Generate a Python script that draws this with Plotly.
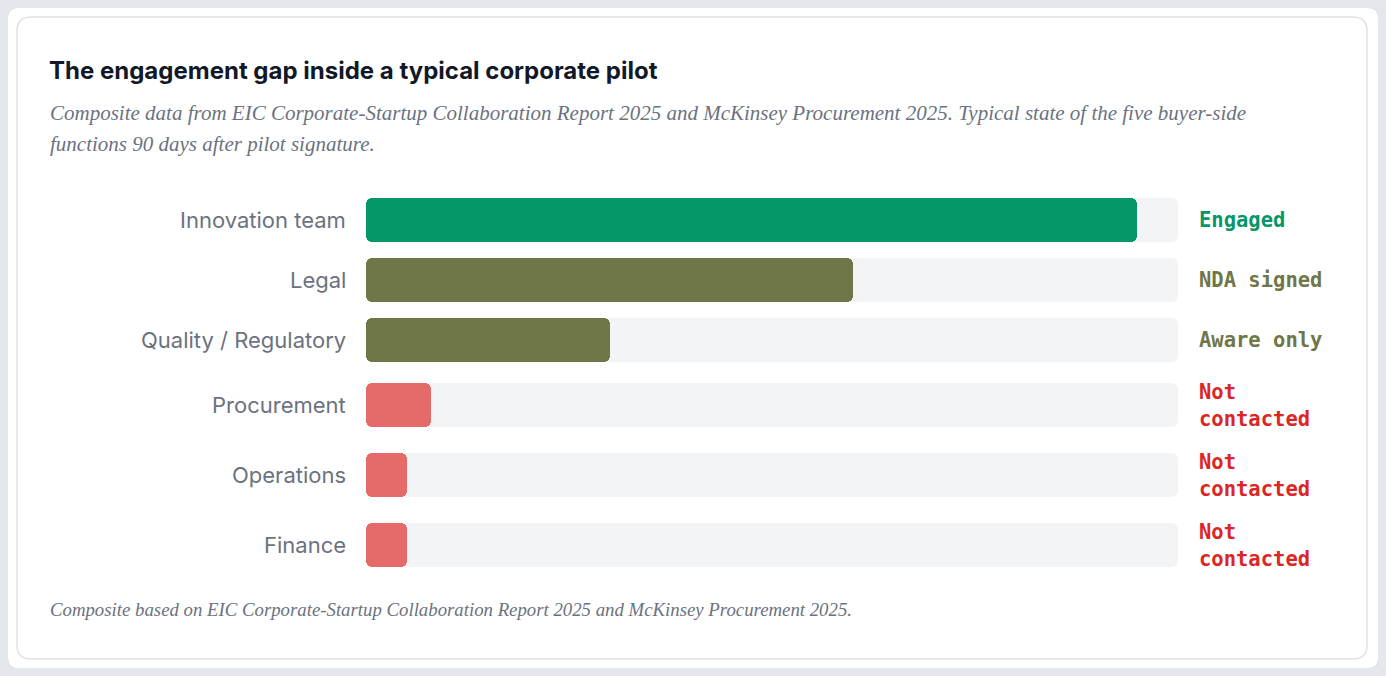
import plotly.graph_objects as go

# ---------------- data ----------------
categories = ["Innovation team", "Legal", "Quality / Regulatory", "Procurement", "Operations", "Finance"]
engagement = [95, 60, 30, 8, 5, 5]
statuses = ["Engaged", "NDA signed", "Aware only", "Not contacted", "Not contacted", "Not contacted"]
track_max = 100

title_text = "The engagement gap inside a typical corporate pilot"
subtitle_lines = [
    "Composite data from EIC Corporate-Startup Collaboration Report 2025 and McKinsey Procurement 2025. Typical state of the five buyer-side",
    "functions 90 days after pilot signature.",
]
footnote_text = "Composite based on EIC Corporate-Startup Collaboration Report 2025 and McKinsey Procurement 2025."

# ---------------- styles ----------------
status_colors = {"Engaged": "#059669", "NDA signed": "#6f7648", "Aware only": "#6f7648", "Not contacted": "#dc2626"}
bar_colors = {"Engaged": "#059669", "NDA signed": "#6f7648", "Aware only": "#6f7648", "Not contacted": "#e56b6b"}
TRACK = "#f3f4f6"
PAGE = "#e4e7eb"

OFF = 8                      # page body margin
WIN_W, WIN_H = 1386, 676
W, H = WIN_W - 2 * OFF, WIN_H - 2 * OFF
PL, PR = 366, 1178           # plot area x (window pixels)
PT = 190                     # top of first row (window pixels)
ROW1, ROW2 = 60, 70          # row heights for 1-line / 2-line status labels
BAR_H = 44
RADIUS = 6
WRAP = 11


def wrap(s):
    if len(s) > WRAP and " " in s:
        return s.split(" ", 1)
    return [s]


wrapped = [wrap(s) for s in statuses]
heights = [ROW1 if len(w) == 1 else ROW2 for w in wrapped]
centers = []
acc = PT
for h in heights:
    centers.append(acc + h / 2)
    acc += h
PB = acc

pw, ph = PR - PL, PB - PT


def px(x):
    return (x - PL) / pw


def py(y):
    return (PB - y) / ph


def rounded_bar(values, colors):
    # two overlapping pieces growing outwards so both ends get rounded corners
    traces = []
    traces.append(go.Bar(
        x=[-0.75 * v for v in values], base=[0.75 * v for v in values], y=centers,
        orientation="h", width=BAR_H,
        marker=dict(color=colors, cornerradius=RADIUS, line=dict(width=0)),
        hoverinfo="skip", showlegend=False,
    ))
    traces.append(go.Bar(
        x=[0.75 * v for v in values], base=[0.25 * v for v in values], y=centers,
        orientation="h", width=BAR_H,
        marker=dict(color=colors, cornerradius=RADIUS, line=dict(width=0)),
        hoverinfo="skip", showlegend=False,
    ))
    return traces


fig = go.Figure()
for t in rounded_bar([track_max] * len(categories), [TRACK] * len(categories)):
    fig.add_trace(t)
for t in rounded_bar(engagement, [bar_colors[s] for s in statuses]):
    fig.add_trace(t)

annotations = []
for c, cat in zip(centers, categories):
    annotations.append(dict(
        x=0, y=c, xref="paper", yref="y", text=cat, showarrow=False,
        xanchor="right", yanchor="middle", xshift=-18,
        font=dict(family="Inter", size=22, color="#6b7280"),
    ))
for c, w, s in zip(centers, wrapped, statuses):
    annotations.append(dict(
        x=1, y=c, xref="paper", yref="y", text="<br>".join(w), showarrow=False,
        xanchor="left", yanchor="middle", xshift=19, align="left",
        font=dict(family="DejaVu Sans Mono", size=20.5, color=status_colors[s], weight="bold"),
    ))

annotations.append(dict(
    x=px(47), y=py(70), xref="paper", yref="paper", text="<b>" + title_text + "</b>",
    showarrow=False, xanchor="left", yanchor="middle",
    font=dict(family="Inter", size=24, color="#111827"),
))
for yy, line in zip([113, 144], subtitle_lines):
    annotations.append(dict(
        x=px(48), y=py(yy), xref="paper", yref="paper", text=line,
        showarrow=False, xanchor="left", yanchor="middle", align="left",
        font=dict(family="Liberation Serif", size=21, color="#6b7280", style="italic"),
    ))
annotations.append(dict(
    x=px(48), y=py(609), xref="paper", yref="paper", text=footnote_text,
    showarrow=False, xanchor="left", yanchor="middle", align="left",
    font=dict(family="Liberation Serif", size=18.8, color="#6b7280", style="italic"),
))


def rrect(x0, y0, x1, y1, r):
    X, Y = px, py
    return (f"M {X(x0 + r)} {Y(y0)} L {X(x1 - r)} {Y(y0)} Q {X(x1)} {Y(y0)} {X(x1)} {Y(y0 + r)} "
            f"L {X(x1)} {Y(y1 - r)} Q {X(x1)} {Y(y1)} {X(x1 - r)} {Y(y1)} "
            f"L {X(x0 + r)} {Y(y1)} Q {X(x0)} {Y(y1)} {X(x0)} {Y(y1 - r)} "
            f"L {X(x0)} {Y(y0 + r)} Q {X(x0)} {Y(y0)} {X(x0 + r)} {Y(y0)} Z")


shapes = [
    dict(type="path", path=rrect(7.5, 7.5, 1378.5, 668.5, 11), xref="paper", yref="paper",
         fillcolor="#ffffff", line=dict(color="#d6dadf", width=1), layer="below"),
    dict(type="path", path=rrect(17, 17, 1367, 659, 14), xref="paper", yref="paper",
         fillcolor="#ffffff", line=dict(color="#e0e3e7", width=1.5), layer="below"),
]

fig.update_layout(
    width=W, height=H,
    margin=dict(l=PL - OFF, r=(OFF + W) - PR, t=PT - OFF, b=(OFF + H) - PB, pad=0),
    paper_bgcolor=PAGE, plot_bgcolor="rgba(0,0,0,0)",
    barmode="overlay", bargap=0,
    xaxis=dict(range=[0, track_max], visible=False, fixedrange=True),
    yaxis=dict(range=[PB, PT], visible=False, fixedrange=True),
    annotations=annotations, shapes=shapes,
    showlegend=False,
)

fig.write_html("out.html", config={"displayModeBar": False},
               post_script="document.body.style.background='%s';" % PAGE)
